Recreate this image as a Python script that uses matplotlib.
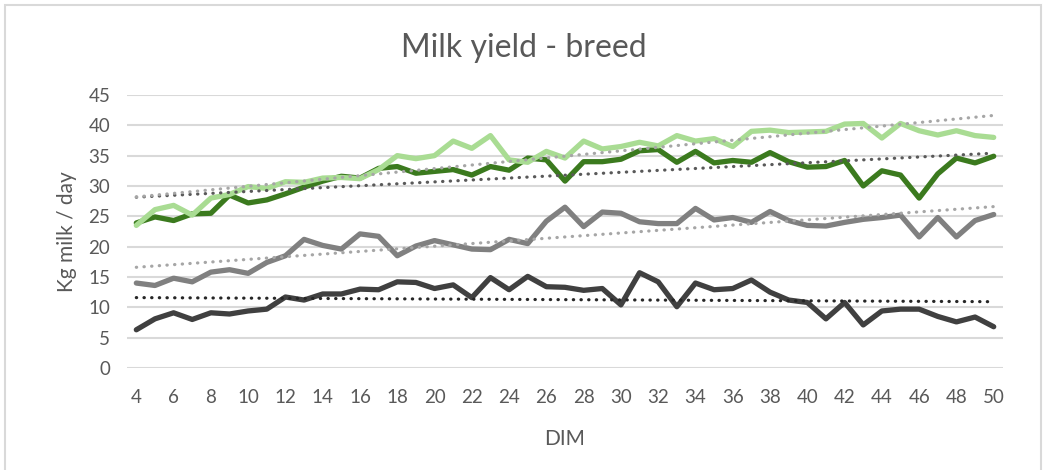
import numpy as np
import matplotlib
matplotlib.use("Agg")
import matplotlib.pyplot as plt
from matplotlib.patches import Rectangle

plt.rcParams['font.family'] = ['Lato', 'DejaVu Sans']

dim = list(range(4, 51))

light_green = [23.5, 26.1, 26.8, 25.2, 28.0, 28.6, 29.9, 29.6, 30.7, 30.6,
               31.3, 31.4, 31.2, 32.7, 35.0, 34.5, 35.0, 37.4, 36.2, 38.3,
               34.3, 33.9, 35.7, 34.6, 37.4, 36.1, 36.5, 37.2, 36.6, 38.3,
               37.4, 37.8, 36.5, 39.0, 39.2, 38.8, 38.9, 39.0, 40.2, 40.3,
               37.9, 40.3, 39.1, 38.4, 39.1, 38.3, 38.0]

dark_green = [23.9, 24.9, 24.3, 25.4, 25.5, 28.5, 27.2, 27.7, 28.7, 29.8,
              30.8, 31.6, 31.3, 32.9, 33.2, 32.1, 32.4, 32.7, 31.8, 33.2,
              32.6, 34.6, 34.3, 30.8, 34.0, 34.0, 34.4, 35.8, 36.0, 33.9,
              35.7, 33.8, 34.2, 33.9, 35.5, 34.0, 33.1, 33.2, 34.2, 30.0,
              32.5, 31.8, 28.0, 32.0, 34.6, 33.8, 34.9]

gray = [14.0, 13.6, 14.8, 14.2, 15.8, 16.2, 15.6, 17.4, 18.5, 21.2,
        20.2, 19.6, 22.1, 21.7, 18.5, 20.1, 21.0, 20.3, 19.6, 19.5,
        21.2, 20.5, 24.2, 26.5, 23.3, 25.7, 25.5, 24.1, 23.8, 23.8,
        26.3, 24.4, 24.8, 24.0, 25.8, 24.3, 23.5, 23.4, 24.0, 24.5,
        24.8, 25.2, 21.6, 24.8, 21.6, 24.3, 25.3]

dark_gray = [6.3, 8.1, 9.1, 8.0, 9.1, 8.9, 9.4, 9.7, 11.7, 11.2,
             12.2, 12.2, 13.0, 12.9, 14.2, 14.1, 13.1, 13.7, 11.6, 14.9,
             12.9, 15.1, 13.4, 13.3, 12.8, 13.1, 10.4, 15.7, 14.2, 10.1,
             14.0, 12.9, 13.1, 14.5, 12.5, 11.2, 10.8, 8.1, 10.8, 7.1,
             9.4, 9.7, 9.7, 8.5, 7.6, 8.4, 6.8]

title = "Milk yield - breed"
xlabel = "DIM"
ylabel = "Kg milk / day"
xtick_labels = [str(v) for v in range(4, 51, 2)]
yticks = list(range(0, 50, 5))

text_color = "#595959"

fig = plt.figure(figsize=(10.47, 4.70), dpi=100)
fig.patches.append(Rectangle((0.005, -0.01), 0.989, 1.0, transform=fig.transFigure,
                             fill=False, edgecolor="#D9D9D9", linewidth=1.5))
ax = fig.add_axes([0.1213, 0.217, 0.8367, 0.581])

x = np.array(dim)
series = [
    (dark_gray, "#404040", "#262626"),
    (gray, "#808080", "#A6A6A6"),
    (dark_green, "#3B7A1E", "#595959"),
    (light_green, "#A9DC93", "#A6A6A6"),
]
for vals, col, tcol in series:
    ax.plot(x, vals, color=col, linewidth=3.8, solid_joinstyle="round",
            solid_capstyle="round", zorder=3)
for vals, col, tcol in series:
    m, b = np.polyfit(x, np.array(vals), 1)
    xs = np.array([x[0], x[-1]])
    ax.plot(xs, m * xs + b, color=tcol, linewidth=2.3, linestyle=(0, (0.1, 2.3)),
            dash_capstyle="round", zorder=4)

ax.set_xlim(3.5, 50.5)
ax.set_ylim(0, 45)
ax.set_yticks(yticks)
ax.set_xticks(list(range(4, 51, 2)))
ax.set_xticklabels(xtick_labels)
ax.grid(axis="y", color="#D9D9D9", linewidth=1.5)
ax.grid(axis="x", visible=False)
ax.set_axisbelow(True)
for s in ax.spines.values():
    s.set_visible(False)
ax.tick_params(axis="both", length=0, labelsize=13.5, labelcolor=text_color)
ax.tick_params(axis="x", pad=15)
ax.tick_params(axis="y", pad=12)

fig.text(0.5, 0.897, title, fontsize=23, color=text_color, ha="center", va="center")
ax.set_xlabel(xlabel, fontsize=15, color=text_color, labelpad=17)
ax.set_ylabel(ylabel, fontsize=15, color=text_color, labelpad=8)

fig.savefig("out.png", dpi=100)
